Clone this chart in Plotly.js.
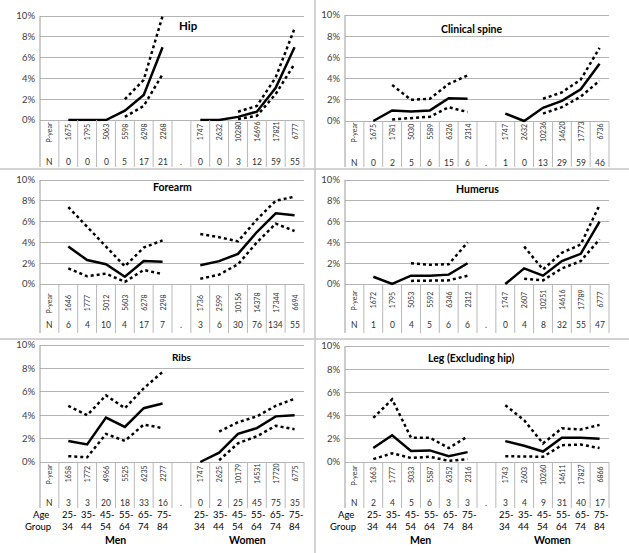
<!DOCTYPE html>
<html><head><meta charset="utf-8">
<script src="https://cdn.plot.ly/plotly-3.0.1.min.js"></script>
<style>html,body{margin:0;padding:0;background:#fff}#chart{width:629px;height:553px}</style>
</head><body><div id="chart"></div>
<script>
// ---------- categories ----------
const categories = ['label','M25-34','M35-44','M45-54','M55-64','M65-74','M75-84','gap',
                    'W25-34','W35-44','W45-54','W55-64','W65-74','W75-84'];
const menCats = ['M25-34','M35-44','M45-54','M55-64','M65-74','M75-84'];
const womenCats = ['W25-34','W35-44','W45-54','W55-64','W65-74','W75-84'];
const ageGroups = ['25-34','35-44','45-54','55-64','65-74','75-84'];
const sexLabels = ['Men','Women'];
const yTickVals = [0,2,4,6,8,10];
const yTickLabels = ['0%','2%','4%','6%','8%','10%'];
const panelTitles = ['Hip','Clinical spine','Forearm','Humerus','Ribs','Leg (Excluding hip)'];

// ---------- Hip ----------
const hipMenRate    = [0, 0, 0, 0.9, 2.4, 7.0];
const hipMenUpper   = [null, null, null, 2.0, 3.85, 10.0];
const hipMenLower   = [null, null, null, 0.3, 1.35, 4.4];
const hipWomenRate  = [0, 0, 0.3, 0.8, 3.1, 7.0];
const hipWomenUpper = [null, null, 0.8, 1.35, 4.1, 8.8];
const hipWomenLower = [null, null, 0.1, 0.4, 2.5, 5.4];
const hipMenPyear   = [1675, 1795, 5063, 5598, 6298, 2268];
const hipMenN       = [0, 0, 0, 5, 17, 21];
const hipWomenPyear = [1747, 2632, 10280, 14696, 17821, 6777];
const hipWomenN     = [0, 0, 3, 12, 59, 55];

// ---------- Clinical spine ----------
const spineMenRate    = [0, 1.0, 0.9, 1.0, 2.15, 2.1];
const spineMenUpper   = [null, 3.4, 2.0, 2.1, 3.5, 4.3];
const spineMenLower   = [null, 0.15, 0.3, 0.4, 1.3, 0.85];
const spineWomenRate  = [0.7, 0, 1.25, 1.9, 3.0, 5.4];
const spineWomenUpper = [null, null, 2.1, 2.7, 3.9, 6.9];
const spineWomenLower = [null, null, 0.7, 1.3, 2.3, 3.8];
const spineMenPyear   = [1675, 1781, 5030, 5589, 6326, 2314];
const spineMenN       = [0, 2, 5, 6, 15, 6];
const spineWomenPyear = [1747, 2632, 10236, 14620, 17773, 6736];
const spineWomenN     = [1, 0, 13, 29, 59, 46];

// ---------- Forearm ----------
const foreMenRate    = [3.6, 2.3, 1.9, 0.7, 2.2, 2.15];
const foreMenUpper   = [7.4, 5.5, 3.6, 1.7, 3.5, 4.2];
const foreMenLower   = [1.5, 0.75, 1.0, 0.2, 1.35, 0.95];
const foreWomenRate  = [1.8, 2.2, 2.9, 5.0, 6.8, 6.6];
const foreWomenUpper = [4.8, 4.5, 4.1, 6.2, 8.0, 8.4];
const foreWomenLower = [0.5, 0.9, 1.9, 4.0, 5.8, 5.1];
const foreMenPyear   = [1646, 1777, 5012, 5603, 6278, 2298];
const foreMenN       = [6, 4, 10, 4, 17, 7];
const foreWomenPyear = [1736, 2599, 10156, 14378, 17344, 6694];
const foreWomenN     = [3, 6, 30, 76, 134, 55];

// ---------- Humerus ----------
const humMenRate    = [0.7, 0, 0.8, 0.8, 0.9, 2.0];
const humMenUpper   = [null, null, 2.0, 1.85, 1.9, 4.0];
const humMenLower   = [null, null, 0.3, 0.3, 0.35, 0.8];
const humWomenRate  = [0, 1.5, 0.8, 2.2, 2.9, 6.0];
const humWomenUpper = [null, 3.6, 1.4, 3.0, 3.8, 7.6];
const humWomenLower = [null, 0.5, 0.35, 1.5, 2.2, 4.3];
const humMenPyear   = [1672, 1795, 5053, 5592, 6346, 2312];
const humMenN       = [1, 0, 4, 5, 6, 6];
const humWomenPyear = [1747, 2607, 10251, 14616, 17789, 6777];
const humWomenN     = [0, 4, 8, 32, 55, 47];

// ---------- Ribs ----------
const ribMenRate    = [1.8, 1.5, 3.8, 3.0, 4.6, 5.0];
const ribMenUpper   = [4.8, 4.0, 5.7, 4.6, 6.3, 7.7];
const ribMenLower   = [0.5, 0.4, 2.4, 1.8, 3.2, 2.9];
const ribWomenRate  = [0, 0.8, 2.4, 2.9, 3.9, 4.0];
const ribWomenUpper = [null, 2.6, 3.4, 3.9, 4.8, 5.4];
const ribWomenLower = [null, 0.15, 1.6, 2.2, 3.1, 2.8];
const ribMenPyear   = [1658, 1772, 4966, 5525, 6235, 2277];
const ribMenN       = [3, 3, 20, 18, 33, 16];
const ribWomenPyear = [1747, 2625, 10179, 14531, 17720, 6775];
const ribWomenN     = [0, 2, 25, 45, 75, 35];

// ---------- Leg (excluding hip) ----------
const legMenRate    = [1.2, 2.3, 0.95, 1.0, 0.5, 0.85];
const legMenUpper   = [3.8, 5.4, 2.1, 2.1, 1.2, 2.2];
const legMenLower   = [0.25, 0.75, 0.35, 0.45, 0.1, 0.25];
const legWomenRate  = [1.8, 1.4, 0.9, 2.1, 2.1, 2.0];
const legWomenUpper = [4.9, 3.6, 1.6, 2.9, 2.8, 3.2];
const legWomenLower = [0.5, 0.5, 0.45, 1.45, 1.5, 1.2];
const legMenPyear   = [1663, 1777, 5033, 5587, 6352, 2316];
const legMenN       = [2, 4, 5, 6, 3, 3];
const legWomenPyear = [1743, 2603, 10260, 14611, 17827, 6866];
const legWomenN     = [3, 4, 9, 31, 40, 17];

// ---------- assemble ----------
const panelData = [
  [hipMenRate,hipMenUpper,hipMenLower,hipWomenRate,hipWomenUpper,hipWomenLower,hipMenPyear,hipMenN,hipWomenPyear,hipWomenN],
  [spineMenRate,spineMenUpper,spineMenLower,spineWomenRate,spineWomenUpper,spineWomenLower,spineMenPyear,spineMenN,spineWomenPyear,spineWomenN],
  [foreMenRate,foreMenUpper,foreMenLower,foreWomenRate,foreWomenUpper,foreWomenLower,foreMenPyear,foreMenN,foreWomenPyear,foreWomenN],
  [humMenRate,humMenUpper,humMenLower,humWomenRate,humWomenUpper,humWomenLower,humMenPyear,humMenN,humWomenPyear,humWomenN],
  [ribMenRate,ribMenUpper,ribMenLower,ribWomenRate,ribWomenUpper,ribWomenLower,ribMenPyear,ribMenN,ribWomenPyear,ribWomenN],
  [legMenRate,legMenUpper,legMenLower,legWomenRate,legWomenUpper,legWomenLower,legMenPyear,legMenN,legWomenPyear,legWomenN]
];

const W = 629, H = 553;
// pixel geometry of each panel (layout only)
const geom = [
  {L:40, R:304, y10:16,  y0:120, py:132, n:162, bot:167, tx:188, ty:25, ts:11.5},
  {L:345,R:609, y10:15,  y0:121, py:132, n:163, bot:167, tx:472, ty:29, ts:10.5},
  {L:40, R:304, y10:180, y0:284, py:303, n:325, bot:333, tx:172, ty:187, ts:10.5},
  {L:345,R:609, y10:180, y0:284, py:300, n:325, bot:333, tx:477, ty:189, ts:10.5},
  {L:40, R:304, y10:345, y0:462, py:474, n:503, bot:508, tx:182, ty:357, ts:10, age1:514, age2:526.5, sex:540},
  {L:345,R:609, y10:346, y0:462, py:475, n:503, bot:508, tx:471, ty:358, ts:10.5, age1:514, age2:526.5, sex:540}
];
const px = v => v / W;
const py = v => 1 - v / H;

const FONT = 'Lato, "Open Sans", sans-serif';
const TXT = '#303030';
const traces = [];
const layout = {
  width: W, height: H, margin: {l:0, r:0, t:0, b:0},
  paper_bgcolor: '#fff', plot_bgcolor: 'rgba(0,0,0,0)',
  showlegend: false, font: {family: FONT, color: TXT},
  annotations: [], shapes: []
};

geom.forEach((g, k) => {
  const id = k + 1;
  const xa = 'x' + (k ? id : ''), ya = 'y' + (k ? id : '');
  const xk = 'xaxis' + (k ? id : ''), yk = 'yaxis' + (k ? id : '');
  const pad = 1.3;
  const pxPer = (g.y0 - g.y10) / 10;
  layout[xk] = {
    domain: [px(g.L), px(g.R)], anchor: ya, type: 'category',
    categoryorder: 'array', categoryarray: categories, range: [-0.5, 13.5],
    showticklabels: false, showgrid: false, zeroline: false, showline: false, ticks: ''
  };
  layout[yk] = {
    domain: [py(g.y0 + pad), py(g.y10 - pad)], anchor: xa,
    range: [-pad / pxPer, 10 + pad / pxPer],
    tickvals: yTickVals, ticktext: yTickLabels, ticks: '', ticklabelstandoff: 4,
    showgrid: true, gridcolor: '#b4b4b4', gridwidth: 1, zeroline: false,
    showline: false, tickfont: {size: 9.5, color: '#404040', family: FONT}
  };
  const d = panelData[k];
  const series = [
    [menCats, d[0], 'solid'], [menCats, d[1], 'dot'], [menCats, d[2], 'dot'],
    [womenCats, d[3], 'solid'], [womenCats, d[4], 'dot'], [womenCats, d[5], 'dot']
  ];
  series.forEach(s => traces.push({
    type: 'scatter', mode: 'lines', x: s[0], y: s[1], xaxis: xa, yaxis: ya,
    line: {color: '#000', width: 2.5, dash: s[2]}, connectgaps: false, hoverinfo: 'skip'
  }));

  // title
  layout.annotations.push({xref:'paper', yref:'paper', x: px(g.tx), y: py(g.ty),
    text: '<b>' + panelTitles[k] + '</b>', showarrow: false, xanchor: 'center', yanchor: 'middle',
    font: {size: g.ts, color: '#000', family: FONT}});

  // table text
  const addCell = (cat, yy, text, size, angle, color, xshift) => layout.annotations.push({
    xref: xa, yref: 'paper', x: cat, y: py(yy), text: String(text), showarrow: false,
    textangle: angle || 0, xanchor: 'center', yanchor: 'middle', xshift: xshift || 0,
    font: {size: size, color: color || TXT, family: FONT}
  });
  addCell('label', g.py, 'P-year', 7, -90);
  addCell('label', g.n, 'N', 8.5);
  addCell('gap', g.n, '.', 8.5);
  menCats.forEach((c, i) => { addCell(c, g.py, d[6][i], 7, -90); addCell(c, g.n, d[7][i], 8.5); });
  womenCats.forEach((c, i) => { addCell(c, g.py, d[8][i], 7, -90); addCell(c, g.n, d[9][i], 8.5); });

  if (g.age1) {
    addCell('label', g.age1, 'Age', 9.5, 0, '#000', -8);
    addCell('label', g.age2, 'Group', 9.5, 0, '#000', -11);
    ageGroups.forEach((a, i) => {
      const parts = a.split('-');
      [menCats[i], womenCats[i]].forEach(c => {
        addCell(c, g.age1, parts[0] + '-', 9.5, 0, '#000', 1.5);
        addCell(c, g.age2, parts[1], 9.5, 0, '#000', 0);
      });
    });
    layout.annotations.push({xref: xa, yref: 'paper', x: 3.5, y: py(g.sex), text: '<b>' + sexLabels[0] + '</b>',
      showarrow: false, yanchor: 'middle', font: {size: 10.5, color: '#000', family: FONT}});
    layout.annotations.push({xref: xa, yref: 'paper', x: 10.5, y: py(g.sex), text: '<b>' + sexLabels[1] + '</b>',
      showarrow: false, yanchor: 'middle', font: {size: 10.5, color: '#000', family: FONT}});
  }

  // axis line + table cell borders (category boundaries)
  const w = (g.R - g.L) / categories.length;
  for (let i = 0; i <= categories.length; i++) {
    const xx = g.L + i * w;
    layout.shapes.push({type: 'line', xref: 'paper', yref: 'paper',
      x0: px(xx), x1: px(xx), y0: py(i === 0 ? g.y10 : g.y0), y1: py(g.bot),
      line: {color: i === 0 ? '#9a9a9a' : '#b8b8b8', width: 1}});
  }
});

// panel separators
layout.shapes.push({type:'line', xref:'paper', yref:'paper', x0: px(315), x1: px(315), y0: 0, y1: 1,
  line: {color: '#c4c4c4', width: 1.5}});
[169, 339].forEach(yy => layout.shapes.push({type:'line', xref:'paper', yref:'paper',
  x0: 0, x1: 1, y0: py(yy), y1: py(yy), line: {color: '#c4c4c4', width: 1.5}}));

Plotly.newPlot('chart', traces, layout, {staticPlot: true, displayModeBar: false});
</script></body></html>
